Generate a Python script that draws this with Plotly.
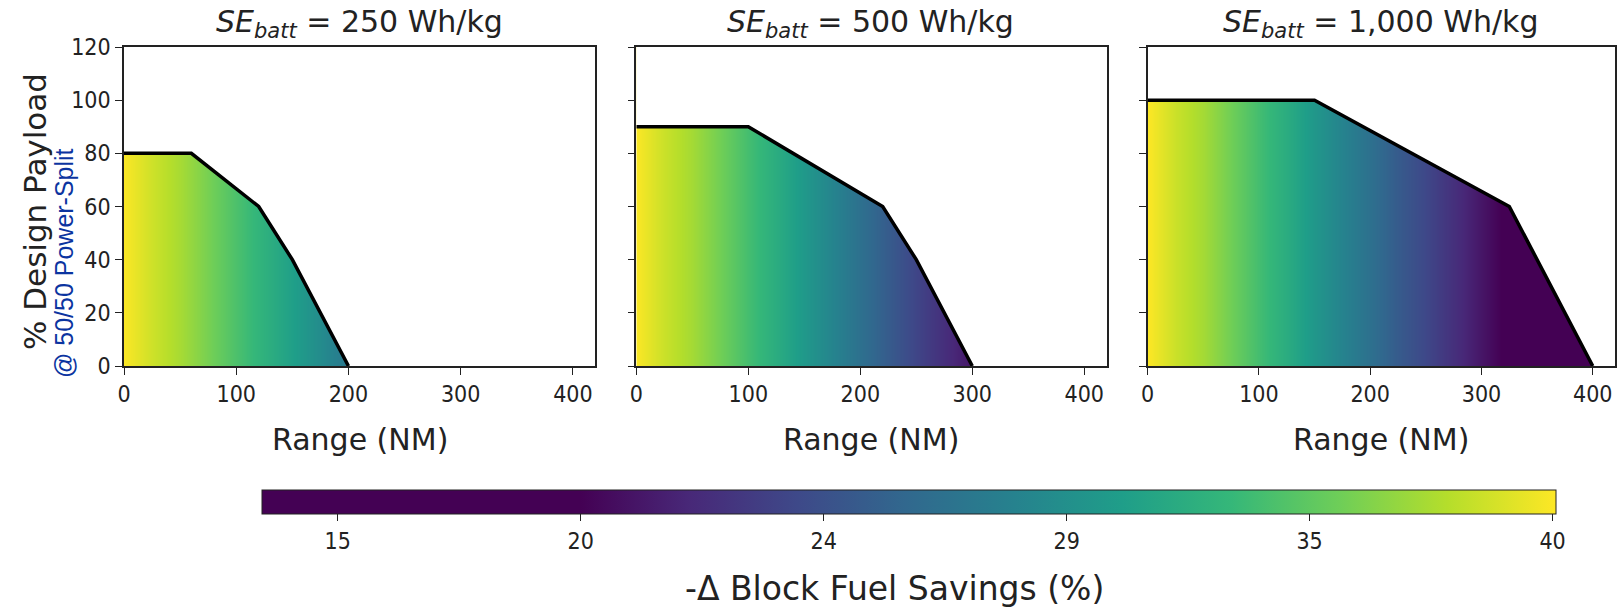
import plotly.graph_objects as go
from plotly.subplots import make_subplots
import plotly.colors as pc

# ---------------- data ----------------
panel_titles = ["<i>SE</i><sub><i>batt</i></sub> = 250 Wh/kg",
                "<i>SE</i><sub><i>batt</i></sub> = 500 Wh/kg",
                "<i>SE</i><sub><i>batt</i></sub> = 1,000 Wh/kg"]

# payload-range boundary (NM, % design payload)
p1_range = [0, 60, 120, 150, 200]
p1_payload = [80, 80, 60, 40, 0]
p2_range = [0, 100, 220, 250, 300]
p2_payload = [90, 90, 60, 40, 0]
p3_range = [0, 150, 325, 400]
p3_payload = [100, 100, 60, 0]

# fuel savings (%) vs range (NM)
p1_sav_range = [0, 25, 50, 75, 100, 125, 150, 175, 200]
p1_savings = [40.0, 38.6, 37.4, 35.9, 34.3, 32.8, 31.3, 29.7, 28.0]
p2_sav_range = [0, 25, 50, 75, 100, 125, 150, 175, 200, 225, 250, 275, 300]
p2_savings = [40.0, 38.5, 37.3, 35.7, 34.0, 32.4, 30.7, 29.1, 27.4, 25.8, 24.2, 22.7, 21.2]
p3_sav_range = [0, 25, 50, 75, 100, 125, 150, 175, 200, 225, 250, 275, 300, 325, 350, 375, 400]
p3_savings = [40.07, 38.5, 37.3, 35.7, 34.0, 32.4, 30.6, 29.0, 27.4, 25.8, 24.4, 22.8, 21.2,
              19.5, 17.5, 15.5, 13.44]

cb_min, cb_max, cb_flat_top = 13.44, 40.07, 20.0
cb_tickvals = [15, 20, 25, 30, 35, 40]
cb_ticktext = ["15", "20", "24", "29", "35", "40"]

x_ticks = [0, 100, 200, 300, 400]
y_ticks = [0, 20, 40, 60, 80, 100, 120]

# ---------------- layout geometry (pixels) ----------------
FW, FH = 1618, 607
L, R, T, B = 124, 1, 47, 241
W = FW - L - R
H = FH - T - B


def xp(px):
    return (px - L) / W


def yp(py):
    return (FH - B - py) / H


# colourscale: flat dark below 20, viridis above
vir = pc.sequential.Viridis
p0 = (cb_flat_top - cb_min) / (cb_max - cb_min)
cscale = [[0.0, vir[0]], [p0, vir[0]]]
for i in range(1, len(vir)):
    cscale.append([p0 + (1 - p0) * i / (len(vir) - 1), vir[i]])

fig = make_subplots(rows=1, cols=3, horizontal_spacing=0.0)

domains = [[xp(124), xp(596)], [xp(637), xp(1108)], [xp(1149), xp(1617)]]

panels = [
    (p1_range, p1_payload, p1_sav_range, p1_savings),
    (p2_range, p2_payload, p2_sav_range, p2_savings),
    (p3_range, p3_payload, p3_sav_range, p3_savings),
]

for i, (rx, ry, sx, sz) in enumerate(panels):
    col = i + 1
    ymax = max(ry)
    fig.add_trace(go.Heatmap(x=sx, y=[0, ymax], z=[sz, sz], zsmooth="best",
                             coloraxis="coloraxis", hoverinfo="skip"),
                  row=1, col=col)
    mx = [-20, -20] + rx + [450, 450]
    my = [130, ymax] + ry + [0, 130]
    fig.add_trace(go.Scatter(x=mx, y=my, fill="toself", fillcolor="white",
                             mode="lines", line=dict(width=0, color="white"),
                             hoverinfo="skip", showlegend=False),
                  row=1, col=col)
    fig.add_trace(go.Scatter(x=rx, y=ry, mode="lines",
                             line=dict(color="black", width=3.5),
                             hoverinfo="skip", showlegend=False),
                  row=1, col=col)

tickfont = dict(family="Liberation Sans Narrow, DejaVu Sans Condensed, DejaVu Sans",
                size=23, color="#222222")

for i in range(3):
    ax = "xaxis" if i == 0 else f"xaxis{i+1}"
    ay = "yaxis" if i == 0 else f"yaxis{i+1}"
    fig.layout[ax].update(domain=domains[i], range=[0, 420], tickvals=x_ticks,
                          ticks="outside", ticklen=7, tickwidth=1.3, tickcolor="#222",
                          showline=True, linecolor="#222", linewidth=1.5, mirror=True,
                          showgrid=False, zeroline=False, tickfont=tickfont)
    fig.layout[ay].update(range=[0, 120], tickvals=y_ticks,
                          ticks="outside", ticklen=7, tickwidth=1.3, tickcolor="#222",
                          showline=True, linecolor="#222", linewidth=1.5, mirror=True,
                          showgrid=False, zeroline=False, tickfont=tickfont,
                          showticklabels=(i == 0))

fig.update_layout(
    width=FW, height=FH,
    margin=dict(l=L, r=R, t=T, b=B),
    plot_bgcolor="white", paper_bgcolor="white",
    showlegend=False,
    font=dict(family="DejaVu Sans", color="#222222"),
    coloraxis=dict(
        colorscale=cscale, cmin=cb_min, cmax=cb_max,
        colorbar=dict(orientation="h", x=xp(910), xanchor="center",
                      y=yp(490), yanchor="top", lenmode="pixels", len=1294,
                      thicknessmode="pixels", thickness=24, xpad=0, ypad=0,
                      outlinewidth=1, outlinecolor="#222",
                      tickvals=cb_tickvals, ticktext=cb_ticktext,
                      ticks="outside", ticklen=7, tickcolor="#222",
                      tickfont=tickfont),
    ),
)

annots = []
centers = [360, 872, 1383]
for i, t in enumerate(panel_titles):
    annots.append(dict(text=t, x=xp(centers[i]), y=yp(23), xref="paper", yref="paper",
                       showarrow=False, xanchor="center", yanchor="middle",
                       font=dict(family="DejaVu Sans", size=30, color="#222")))
    annots.append(dict(text="Range (NM)", x=xp(centers[i]), y=yp(439), xref="paper",
                       yref="paper", showarrow=False, xanchor="center", yanchor="middle",
                       font=dict(family="DejaVu Sans", size=30, color="#222")))
annots.append(dict(text="% Design Payload", x=xp(35), y=yp(212), xref="paper", yref="paper",
                   showarrow=False, textangle=-90, xanchor="center", yanchor="middle",
                   font=dict(family="DejaVu Sans", size=31, color="#222")))
annots.append(dict(text="@ 50/50 Power-Split", x=xp(64), y=yp(263), xref="paper", yref="paper",
                   showarrow=False, textangle=-90, xanchor="center", yanchor="middle",
                   font=dict(family="Liberation Sans", size=25, color="#0b34a0")))
annots.append(dict(text="-Δ Block Fuel Savings (%)", x=xp(896), y=yp(588), xref="paper",
                   yref="paper", showarrow=False, xanchor="center", yanchor="middle",
                   font=dict(family="DejaVu Sans", size=33, color="#222")))
fig.update_layout(annotations=annots)

fig.write_html("out.html", config={"displayModeBar": False},
               post_script="document.body.style.margin='0';")
